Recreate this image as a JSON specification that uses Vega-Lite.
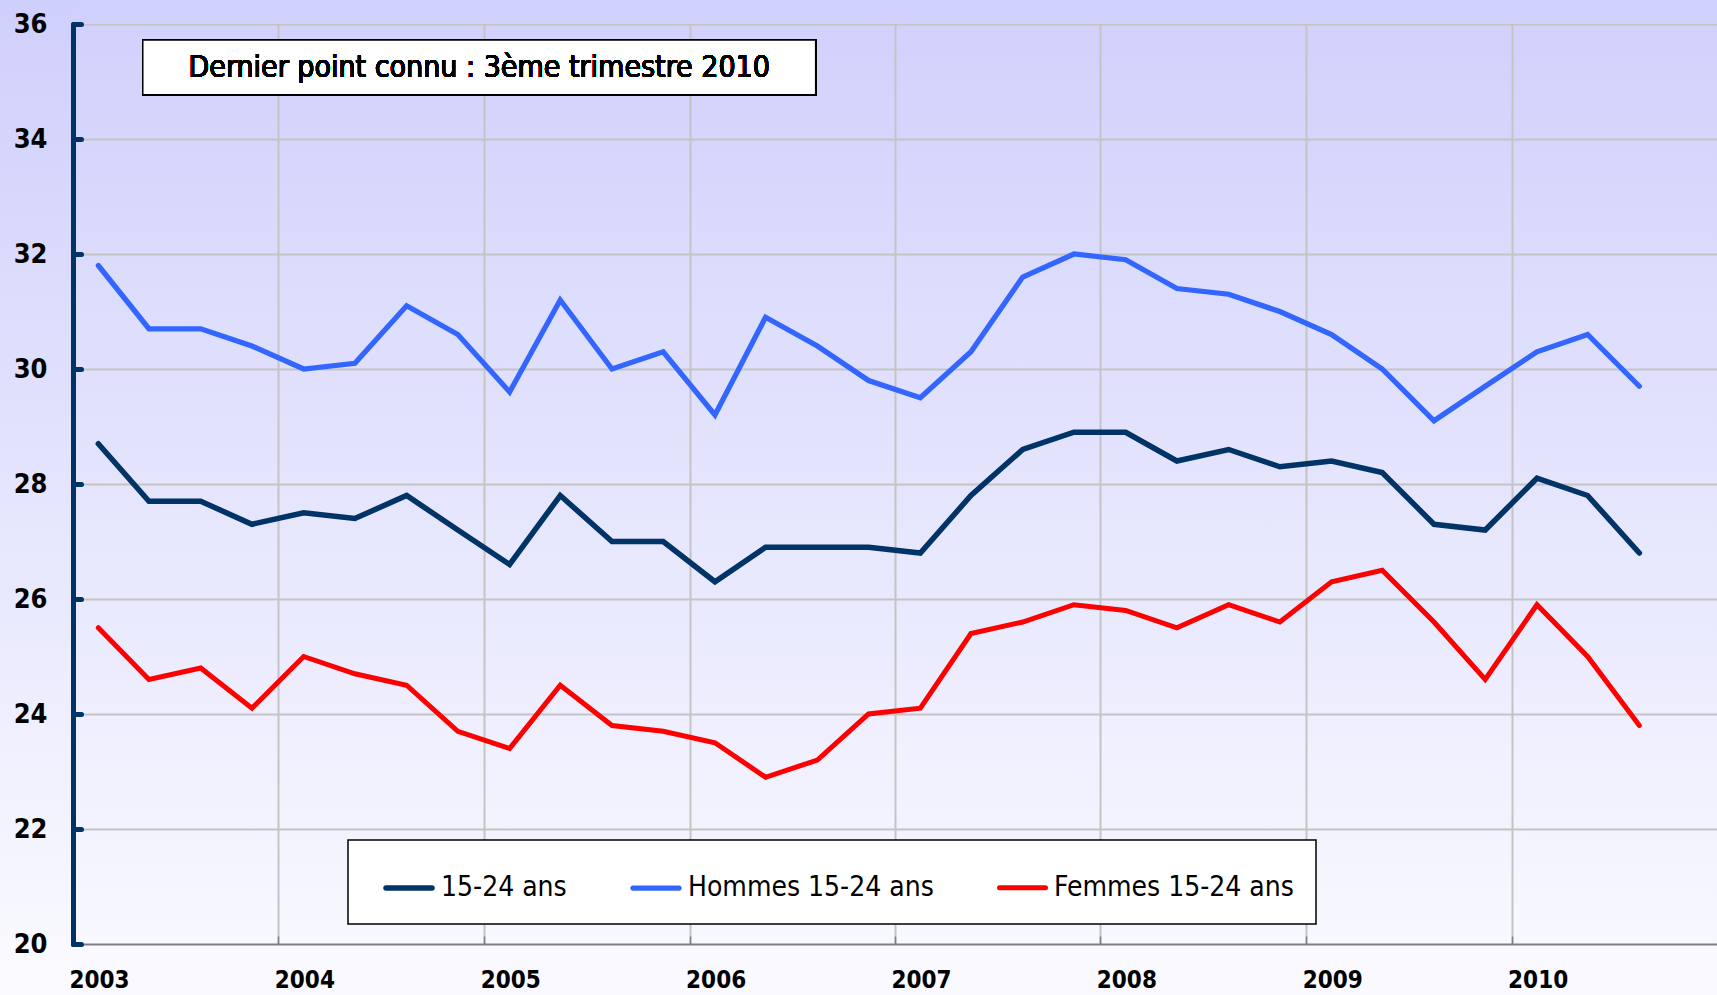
{
  "$schema": "https://vega.github.io/schema/vega-lite/v6.json",
  "autosize": {"type": "none"},
  "padding": {"left": 73, "top": 24, "right": 0, "bottom": 51},
  "width": 1644,
  "height": 920,
  "background": "#f9f9ff",
  "config": {
    "view": {
      "stroke": null,
      "fill": {"gradient": "linear", "x1": 0, "y1": 0, "x2": 0, "y2": 1,
        "stops": [{"offset": 0, "color": "#d1d1fc"}, {"offset": 1, "color": "#f8f8ff"}]}
    },
    "font": "DejaVu Sans Condensed, DejaVu Sans, sans-serif"
  },
  "resolve": {"axis": {"x": "independent", "y": "independent"}},
  "data": {
    "values": [
      {"trimestre": "2003-02-15", "15-24 ans": 28.7, "Hommes 15-24 ans": 31.8, "Femmes 15-24 ans": 25.5},
      {"trimestre": "2003-05-16", "15-24 ans": 27.7, "Hommes 15-24 ans": 30.7, "Femmes 15-24 ans": 24.6},
      {"trimestre": "2003-08-16", "15-24 ans": 27.7, "Hommes 15-24 ans": 30.7, "Femmes 15-24 ans": 24.8},
      {"trimestre": "2003-11-15", "15-24 ans": 27.3, "Hommes 15-24 ans": 30.4, "Femmes 15-24 ans": 24.1},
      {"trimestre": "2004-02-15", "15-24 ans": 27.5, "Hommes 15-24 ans": 30.0, "Femmes 15-24 ans": 25.0},
      {"trimestre": "2004-05-16", "15-24 ans": 27.4, "Hommes 15-24 ans": 30.1, "Femmes 15-24 ans": 24.7},
      {"trimestre": "2004-08-16", "15-24 ans": 27.8, "Hommes 15-24 ans": 31.1, "Femmes 15-24 ans": 24.5},
      {"trimestre": "2004-11-15", "15-24 ans": 27.2, "Hommes 15-24 ans": 30.6, "Femmes 15-24 ans": 23.7},
      {"trimestre": "2005-02-15", "15-24 ans": 26.6, "Hommes 15-24 ans": 29.6, "Femmes 15-24 ans": 23.4},
      {"trimestre": "2005-05-16", "15-24 ans": 27.8, "Hommes 15-24 ans": 31.2, "Femmes 15-24 ans": 24.5},
      {"trimestre": "2005-08-16", "15-24 ans": 27.0, "Hommes 15-24 ans": 30.0, "Femmes 15-24 ans": 23.8},
      {"trimestre": "2005-11-15", "15-24 ans": 27.0, "Hommes 15-24 ans": 30.3, "Femmes 15-24 ans": 23.7},
      {"trimestre": "2006-02-15", "15-24 ans": 26.3, "Hommes 15-24 ans": 29.2, "Femmes 15-24 ans": 23.5},
      {"trimestre": "2006-05-16", "15-24 ans": 26.9, "Hommes 15-24 ans": 30.9, "Femmes 15-24 ans": 22.9},
      {"trimestre": "2006-08-16", "15-24 ans": 26.9, "Hommes 15-24 ans": 30.4, "Femmes 15-24 ans": 23.2},
      {"trimestre": "2006-11-15", "15-24 ans": 26.9, "Hommes 15-24 ans": 29.8, "Femmes 15-24 ans": 24.0},
      {"trimestre": "2007-02-15", "15-24 ans": 26.8, "Hommes 15-24 ans": 29.5, "Femmes 15-24 ans": 24.1},
      {"trimestre": "2007-05-16", "15-24 ans": 27.8, "Hommes 15-24 ans": 30.3, "Femmes 15-24 ans": 25.4},
      {"trimestre": "2007-08-16", "15-24 ans": 28.6, "Hommes 15-24 ans": 31.6, "Femmes 15-24 ans": 25.6},
      {"trimestre": "2007-11-15", "15-24 ans": 28.9, "Hommes 15-24 ans": 32.0, "Femmes 15-24 ans": 25.9},
      {"trimestre": "2008-02-15", "15-24 ans": 28.9, "Hommes 15-24 ans": 31.9, "Femmes 15-24 ans": 25.8},
      {"trimestre": "2008-05-16", "15-24 ans": 28.4, "Hommes 15-24 ans": 31.4, "Femmes 15-24 ans": 25.5},
      {"trimestre": "2008-08-16", "15-24 ans": 28.6, "Hommes 15-24 ans": 31.3, "Femmes 15-24 ans": 25.9},
      {"trimestre": "2008-11-15", "15-24 ans": 28.3, "Hommes 15-24 ans": 31.0, "Femmes 15-24 ans": 25.6},
      {"trimestre": "2009-02-15", "15-24 ans": 28.4, "Hommes 15-24 ans": 30.6, "Femmes 15-24 ans": 26.3},
      {"trimestre": "2009-05-16", "15-24 ans": 28.2, "Hommes 15-24 ans": 30.0, "Femmes 15-24 ans": 26.5},
      {"trimestre": "2009-08-16", "15-24 ans": 27.3, "Hommes 15-24 ans": 29.1, "Femmes 15-24 ans": 25.6},
      {"trimestre": "2009-11-15", "15-24 ans": 27.2, "Hommes 15-24 ans": 29.7, "Femmes 15-24 ans": 24.6},
      {"trimestre": "2010-02-15", "15-24 ans": 28.1, "Hommes 15-24 ans": 30.3, "Femmes 15-24 ans": 25.9},
      {"trimestre": "2010-05-16", "15-24 ans": 27.8, "Hommes 15-24 ans": 30.6, "Femmes 15-24 ans": 25.0},
      {"trimestre": "2010-08-16", "15-24 ans": 26.8, "Hommes 15-24 ans": 29.7, "Femmes 15-24 ans": 23.8}
    ]
  },
  "layer": [
    {
      "mark": {"type": "rect", "fill": {"gradient": "linear", "x1": 0, "y1": 0, "x2": 0, "y2": 1,
        "stops": [{"offset": 0, "color": "#cfcffc"}, {"offset": 1, "color": "#fbfbff"}]}},
      "encoding": {
        "x": {"datum": {"year": 2002, "month": 7, "date": 1, "utc": true}, "type": "temporal", "axis": null},
        "x2": {"datum": {"year": 2003, "month": 1, "date": 1, "utc": true}},
        "y": {"datum": 36.5, "type": "quantitative", "axis": null},
        "y2": {"datum": 19.0}
      }
    },
    {
      "mark": {"type": "rect", "fill": "#d0d0fc"},
      "encoding": {
        "x": {"datum": {"year": 2003, "month": 1, "date": 1, "utc": true}, "type": "temporal",
          "axis": {
            "orient": "top", "title": null, "grid": true, "gridColor": "#c4c4c4", "gridWidth": 2,
            "labels": false, "ticks": false, "domain": false, "zindex": 0,
            "values": [
              {"year": 2004, "month": 1, "date": 1, "utc": true},
              {"year": 2005, "month": 1, "date": 1, "utc": true},
              {"year": 2006, "month": 1, "date": 1, "utc": true},
              {"year": 2007, "month": 1, "date": 1, "utc": true},
              {"year": 2008, "month": 1, "date": 1, "utc": true},
              {"year": 2009, "month": 1, "date": 1, "utc": true},
              {"year": 2010, "month": 1, "date": 1, "utc": true}
            ]
          }},
        "x2": {"datum": {"year": 2011, "month": 6, "date": 1, "utc": true}},
        "y": {"datum": 36.5, "type": "quantitative",
          "axis": {
            "orient": "right", "title": null, "grid": true, "gridColor": "#c4c4c4", "gridWidth": 2,
            "labels": false, "ticks": false, "domain": false, "zindex": 0,
            "values": [22, 24, 26, 28, 30, 32, 34, 36]
          }},
        "y2": {"datum": 36.0}
      }
    },
    {
      "mark": {"type": "rect", "fill": "white", "stroke": "black", "strokeWidth": 1.5},
      "encoding": {
        "x": {"datum": {"year": 2003, "month": 5, "date": 5, "utc": true}, "type": "temporal", "axis": null},
        "x2": {"datum": {"year": 2006, "month": 8, "date": 13, "utc": true}},
        "y": {"datum": 35.72, "type": "quantitative", "axis": null},
        "y2": {"datum": 34.77}
      }
    },
    {
      "mark": {"type": "text", "text": "Dernier point connu : 3ème trimestre 2010", "fontSize": 30, "fontWeight": "normal", "align": "center", "baseline": "middle", "color": "black"},
      "encoding": {
        "x": {"datum": {"year": 2004, "month": 12, "date": 23, "utc": true}, "type": "temporal", "axis": null},
        "y": {"datum": 35.24, "type": "quantitative", "axis": null}
      }
    },
    {
      "transform": [{"fold": ["15-24 ans", "Hommes 15-24 ans", "Femmes 15-24 ans"], "as": ["serie", "taux"]}],
      "mark": {"type": "line", "strokeCap": "round", "strokeJoin": "miter"},
      "encoding": {
        "x": {
          "field": "trimestre", "type": "temporal",
          "scale": {"type": "utc", "domain": [{"year": 2003, "month": 1, "date": 1, "utc": true}, {"year": 2011, "month": 1, "date": 1, "utc": true}]},
          "axis": {
            "orient": "bottom", "title": null, "zindex": 1,
            "values": [
              {"year": 2003, "month": 1, "date": 1, "utc": true},
              {"year": 2004, "month": 1, "date": 1, "utc": true},
              {"year": 2005, "month": 1, "date": 1, "utc": true},
              {"year": 2006, "month": 1, "date": 1, "utc": true},
              {"year": 2007, "month": 1, "date": 1, "utc": true},
              {"year": 2008, "month": 1, "date": 1, "utc": true},
              {"year": 2009, "month": 1, "date": 1, "utc": true},
              {"year": 2010, "month": 1, "date": 1, "utc": true}
            ],
            "format": "%Y",
            "grid": false,
            "domainColor": "#808080", "domainWidth": 2,
            "ticks": true, "tickSize": -8, "tickColor": "#808080", "tickWidth": 1.5,
            "labelOffset": 26, "labelAlign": "center", "labelBaseline": "top",
            "labelPadding": 32, "labelFontSize": 24, "labelFontWeight": "bold", "labelColor": "black",
            "labelOverlap": false, "labelFlush": false
          }
        },
        "y": {
          "field": "taux", "type": "quantitative",
          "scale": {"domain": [20, 36], "nice": false, "zero": false},
          "axis": {
            "orient": "left", "title": null, "zindex": 1,
            "values": [20, 22, 24, 26, 28, 30, 32, 34, 36],
            "grid": false,
            "domainColor": "#003366", "domainWidth": 5, "domainCap": "round",
            "tickColor": "#003366", "tickWidth": 5, "tickSize": -8, "tickCap": "round",
            "labelFontSize": 27, "labelFontWeight": "bold", "labelColor": "black",
            "labelPadding": 34, "labelBaseline": "middle"
          }
        },
        "color": {
          "field": "serie", "type": "nominal",
          "scale": {"domain": ["15-24 ans", "Hommes 15-24 ans", "Femmes 15-24 ans"], "range": ["#003366", "#3366ff", "#ff0000"]},
          "legend": {
            "orient": "none", "legendX": 275, "legendY": 816,
            "direction": "horizontal", "title": null,
            "fillColor": "white", "strokeColor": "black",
            "padding": 22, "symbolOffset": 13,
            "symbolType": "stroke", "symbolSize": 2116, "symbolStrokeWidth": 5,
            "labelFontSize": 28, "labelColor": "black", "labelOffset": 6, "labelLimit": 0,
            "columnPadding": 50,
            "encode": {
              "symbols": {"update": {"strokeCap": {"value": "round"}}},
              "legend": {"update": {"strokeWidth": {"value": 1.5}}}
            }
          }
        },
        "strokeWidth": {
          "field": "serie", "type": "nominal",
          "scale": {"domain": ["15-24 ans", "Hommes 15-24 ans", "Femmes 15-24 ans"], "range": [5.5, 5, 4]},
          "legend": null
        }
      }
    }
  ]
}
